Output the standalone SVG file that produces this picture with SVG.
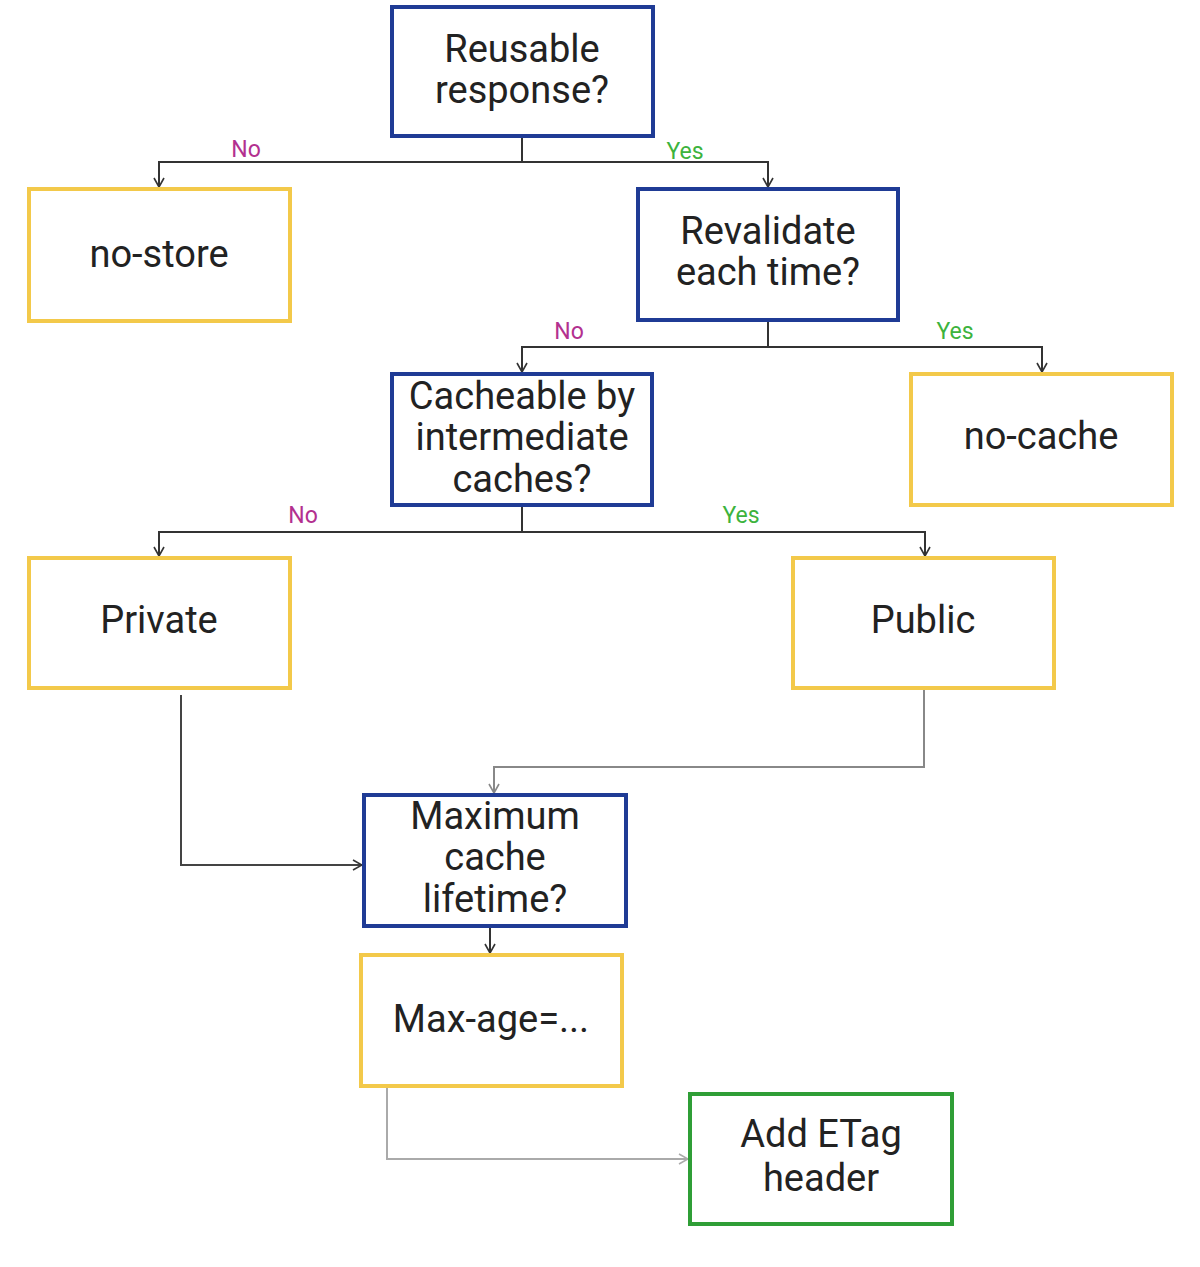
<svg xmlns="http://www.w3.org/2000/svg" width="1200" height="1267" viewBox="0 0 1200 1267">
<defs>
<style>
.box{fill:#fff;stroke-width:4}
.q{stroke:#1f3b95}
.a{stroke:#f3c94a}
.g{stroke:#2f9e36}
.t{font-family:Roboto,"Liberation Sans",sans-serif;font-size:38px;fill:#222;text-anchor:middle}
.lbl{font-family:Roboto,"Liberation Sans",sans-serif;font-size:23px;text-anchor:middle}
.no{fill:#b3308f}
.yes{fill:#3db33d}
.c{fill:none;stroke-width:2}
</style>
<marker id="arrK" viewBox="0 0 12 12" refX="11" refY="6" markerWidth="12" markerHeight="12" markerUnits="userSpaceOnUse" orient="auto">
<path d="M2,1 L11,6 L2,11" fill="none" stroke="#333" stroke-width="1.6"/>
</marker>
<marker id="arrG" viewBox="0 0 12 12" refX="11" refY="6" markerWidth="12" markerHeight="12" markerUnits="userSpaceOnUse" orient="auto">
<path d="M2,1 L11,6 L2,11" fill="none" stroke="#888" stroke-width="1.6"/>
</marker>
<marker id="arrL" viewBox="0 0 12 12" refX="11" refY="6" markerWidth="12" markerHeight="12" markerUnits="userSpaceOnUse" orient="auto">
<path d="M2,1 L11,6 L2,11" fill="none" stroke="#aaa" stroke-width="1.6"/>
</marker>
</defs>
<rect width="1200" height="1267" fill="#fff"/>
<g id="connectors">
<path class="c" stroke="#333" d="M522,136 V162"/>
<path class="c" stroke="#333" d="M522,162 H159 V187" marker-end="url(#arrK)"/>
<path class="c" stroke="#333" d="M522,162 H768 V187" marker-end="url(#arrK)"/>
<path class="c" stroke="#333" d="M768,320 V347"/>
<path class="c" stroke="#333" d="M768,347 H522 V372" marker-end="url(#arrK)"/>
<path class="c" stroke="#333" d="M768,347 H1042 V372" marker-end="url(#arrK)"/>
<path class="c" stroke="#333" d="M522,505 V532"/>
<path class="c" stroke="#333" d="M522,532 H159 V556" marker-end="url(#arrK)"/>
<path class="c" stroke="#333" d="M522,532 H925 V556" marker-end="url(#arrK)"/>
<path class="c" stroke="#444" d="M181,695 V865 H362" marker-end="url(#arrK)"/>
<path class="c" stroke="#888" d="M924,688 V767 H494 V793" marker-end="url(#arrG)"/>
<path class="c" stroke="#333" d="M490,926 V953" marker-end="url(#arrK)"/>
<path class="c" stroke="#aaa" d="M387,1086 V1159 H688" marker-end="url(#arrL)"/>
<text class="lbl no" x="246" y="157">No</text>
<text class="lbl yes" x="685" y="159">Yes</text>
<text class="lbl no" x="569" y="339">No</text>
<text class="lbl yes" x="955" y="339">Yes</text>
<text class="lbl no" x="303" y="523">No</text>
<text class="lbl yes" x="741" y="523">Yes</text>
</g>
<g id="reusable">
<rect class="box q" x="392" y="7" width="261" height="129"/>
<text class="t" x="522" y="62">Reusable</text>
<text class="t" x="522" y="103">response?</text>
</g>
<g id="no-store">
<rect class="box a" x="29" y="189" width="261" height="132"/>
<text class="t" x="159" y="267">no-store</text>
</g>
<g id="revalidate">
<rect class="box q" x="638" y="189" width="260" height="131"/>
<text class="t" x="768" y="244">Revalidate</text>
<text class="t" x="768" y="285">each time?</text>
</g>
<g id="cacheable">
<rect class="box q" x="392" y="374" width="260" height="131"/>
<text class="t" x="522" y="409">Cacheable by</text>
<text class="t" x="522" y="450">intermediate</text>
<text class="t" x="522" y="492">caches?</text>
</g>
<g id="no-cache">
<rect class="box a" x="911" y="374" width="261" height="131"/>
<text class="t" x="1041" y="449">no-cache</text>
</g>
<g id="private">
<rect class="box a" x="29" y="558" width="261" height="130"/>
<text class="t" x="159" y="633">Private</text>
</g>
<g id="public">
<rect class="box a" x="793" y="558" width="261" height="130"/>
<text class="t" x="923" y="633">Public</text>
</g>
<g id="maximum">
<rect class="box q" x="364" y="795" width="262" height="131"/>
<text class="t" x="495" y="829">Maximum</text>
<text class="t" x="495" y="870">cache</text>
<text class="t" x="495" y="912">lifetime?</text>
</g>
<g id="max-age">
<rect class="box a" x="361" y="955" width="261" height="131"/>
<text class="t" x="491" y="1032">Max-age=...</text>
</g>
<g id="etag">
<rect class="box g" x="690" y="1094" width="262" height="130"/>
<text class="t" x="821" y="1147">Add ETag</text>
<text class="t" x="821" y="1191">header</text>
</g>
</svg>
